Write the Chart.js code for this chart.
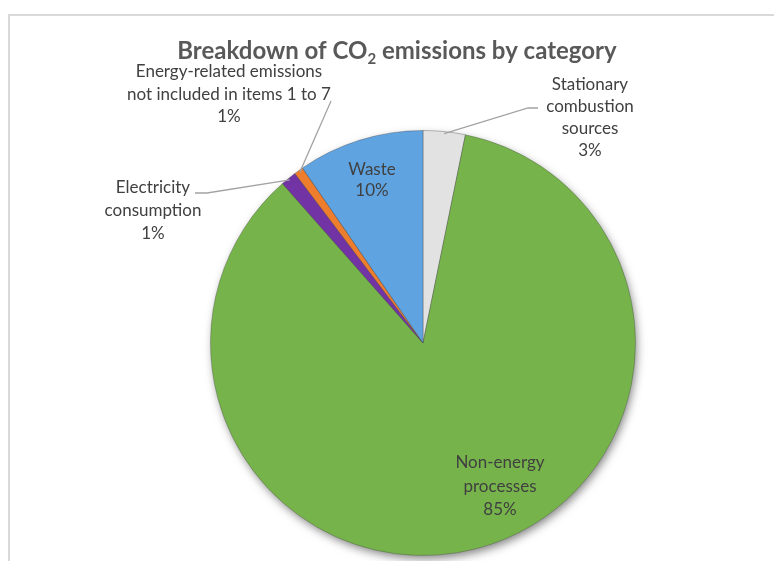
<!DOCTYPE html>
<html>
<head>
<meta charset="utf-8">
<script src="https://cdn.jsdelivr.net/npm/chart.js@4/dist/chart.umd.min.js"></script>
<style>
  html, body { margin: 0; padding: 0; background: #ffffff; }
  #wrap { position: relative; width: 774px; height: 561px; }
  canvas { display: block; }
</style>
</head>
<body>
<div id="wrap"><canvas id="c" width="774" height="561"></canvas></div>
<script>
// ---- Data ----
const titleMain = 'Breakdown of CO';
const titleSub = '2';
const titleTail = ' emissions by category';
const categories = [
  'Stationary\ncombustion\nsources',
  'Non-energy\nprocesses',
  'Electricity\nconsumption',
  'Energy-related emissions\nnot included in items 1 to 7',
  'Waste'
];
const values = [3.2, 85.3, 1.2, 0.7, 9.6];
const sliceColors = ['#e2e2e2', '#76b44b', '#7234a5', '#ee7d2e', '#5fa3e0'];

// ---- Layout for labels (positions only) ----
const labelLayout = [
  { x: 590, y: 85,  lh: 21.7, leader: [[528, 108], [538, 108]] },
  { x: 500, y: 463, lh: 23.5, leader: null },
  { x: 153, y: 188, lh: 23,   leader: [[207, 193], [195, 193]] },
  { x: 229, y: 72,  lh: 22.5, leader: [[331, 101]] },
  { x: 372, y: 170, lh: 21,   leader: null }
];

const total = values.reduce((a, b) => a + b, 0);
const pctText = v => Math.round(v / total * 100 + 1e-9) + '%';

const decorPlugin = {
  id: 'decor',
  beforeDraw(chart) {
    const ctx = chart.ctx;
    ctx.save();
    ctx.strokeStyle = '#d9d9d9';
    ctx.lineWidth = 2;
    ctx.beginPath();
    ctx.moveTo(9, 561);
    ctx.lineTo(9, 15);
    ctx.lineTo(774, 15);
    ctx.stroke();
    ctx.restore();
  },
  beforeDatasetsDraw(chart) {
    const ctx = chart.ctx;
    const arc = chart.getDatasetMeta(0).data[0];
    if (!arc) return;
    const p = arc.getProps(['x', 'y', 'outerRadius'], true);
    ctx.save();
    ctx.shadowColor = 'rgba(0,0,0,0.5)';
    ctx.shadowBlur = 10;
    ctx.shadowOffsetX = 2;
    ctx.shadowOffsetY = 4;
    ctx.fillStyle = '#888';
    ctx.beginPath();
    ctx.arc(p.x, p.y, p.outerRadius - 1, 0, Math.PI * 2);
    ctx.fill();
    ctx.restore();
  },
  afterDatasetsDraw(chart) {
    const ctx = chart.ctx;
    const meta = chart.getDatasetMeta(0);
    ctx.save();
    // title with subscript
    const big = 'bold 24px Lato, "Open Sans", sans-serif';
    const small = 'bold 15px Lato, "Open Sans", sans-serif';
    ctx.fillStyle = '#595959';
    ctx.textBaseline = 'alphabetic';
    ctx.font = big;
    const w1 = ctx.measureText(titleMain).width;
    const w3 = ctx.measureText(titleTail).width;
    ctx.font = small;
    const w2 = ctx.measureText(titleSub).width;
    const tw = w1 + w2 + w3;
    const tx = 397 - tw / 2;
    const ty = 59;
    ctx.textAlign = 'left';
    ctx.font = big;
    ctx.fillText(titleMain, tx, ty);
    ctx.font = small;
    ctx.fillText(titleSub, tx + w1, ty + 5);
    ctx.font = big;
    ctx.fillText(titleTail, tx + w1 + w2, ty);

    // leader lines
    ctx.strokeStyle = '#a3a3a3';
    ctx.lineWidth = 1.3;
    meta.data.forEach((arc, i) => {
      const L = labelLayout[i];
      if (!L.leader) return;
      const p = arc.getProps(['x', 'y', 'startAngle', 'endAngle', 'outerRadius'], true);
      const mid = (p.startAngle + p.endAngle) / 2;
      const r = p.outerRadius - 2;
      ctx.beginPath();
      ctx.moveTo(p.x + Math.cos(mid) * r, p.y + Math.sin(mid) * r);
      L.leader.forEach(pt => ctx.lineTo(pt[0], pt[1]));
      ctx.stroke();
    });

    // labels
    ctx.font = '17px Lato, "Open Sans", sans-serif';
    ctx.fillStyle = '#404040';
    ctx.textAlign = 'center';
    ctx.textBaseline = 'middle';
    categories.forEach((c, i) => {
      const L = labelLayout[i];
      const lines = c.split('\n').concat([pctText(values[i])]);
      lines.forEach((ln, k) => ctx.fillText(ln, L.x, L.y + k * L.lh));
    });
    ctx.restore();
  }
};

new Chart(document.getElementById('c'), {
  type: 'pie',
  data: {
    labels: categories.map(c => c.replace(/\n/g, ' ')),
    datasets: [{
      data: values,
      backgroundColor: sliceColors,
      borderColor: 'rgba(70,70,70,0.35)',
      borderWidth: 1
    }]
  },
  options: {
    responsive: false,
    animation: false,
    devicePixelRatio: 1,
    layout: { padding: { left: 210, right: 138, top: 130, bottom: 5 } },
    plugins: {
      legend: { display: false },
      tooltip: { enabled: false },
      title: { display: false }
    }
  },
  plugins: [decorPlugin]
});
</script>
</body>
</html>
